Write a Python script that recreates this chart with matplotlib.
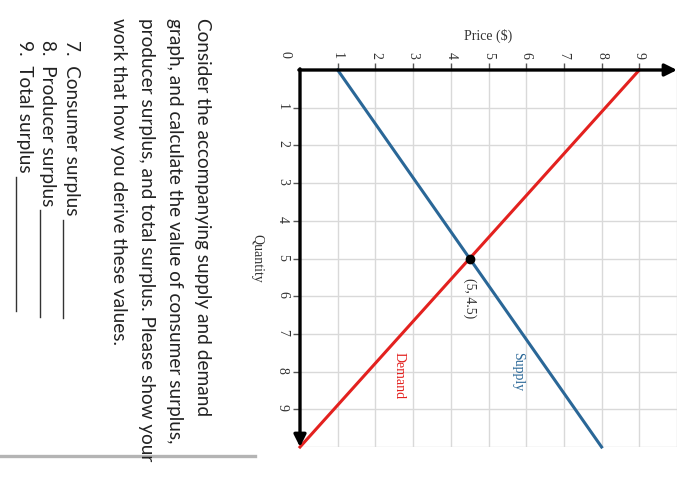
import numpy as np
import matplotlib.pyplot as plt

# supply & demand lines (quantity -> price)
quantity = [0, 10]
supply_price = [1, 8]
demand_price = [9, 0]
equilibrium = (5, 4.5)   # (quantity, price)
ticks = [1, 2, 3, 4, 5, 6, 7, 8, 9]

question = ["Consider the accompanying supply and demand",
            "graph, and calculate the value of consumer surplus,",
            "producer surplus, and total surplus. Please show your",
            "work that how you derive these values."]
items = ["7.  Consumer surplus",
         "8.  Producer surplus",
         "9.  Total surplus"]

blue = '#2a6797'
red = '#e3211f'
serif = 'Liberation Serif'

fig = plt.figure(figsize=(7, 4.87), dpi=100)

# the whole picture is turned a quarter clockwise:
# price runs to the right along the top, quantity runs down
ax = fig.add_axes([300/700, 40/487, 377/700, 377/487])
ax.set_xlim(0, 10)
ax.set_ylim(10, 0)
for s in ax.spines.values():
    s.set_visible(False)

ax.xaxis.tick_top()
ax.set_xticks(ticks)
ax.set_yticks(ticks)
ax.set_xticks([10], minor=True)
ax.set_yticks([10], minor=True)
ax.tick_params(which='minor', length=0)
ax.tick_params(axis='x', length=5, width=1, color='#555555', pad=3,
               labelsize=10, labelrotation=-90)
ax.tick_params(axis='y', length=5, width=1, color='#555555', pad=3,
               labelsize=10, labelrotation=-90)
for lab in ax.get_xticklabels() + ax.get_yticklabels():
    lab.set_fontfamily(serif)
    lab.set_color('#333333')
ax.grid(True, which='both', color='#d9d9d9', lw=1)
ax.set_axisbelow(True)

ax.set_xlabel('Price ($)', fontfamily=serif, fontsize=10, color='#333333')
ax.xaxis.set_label_position('top')
ax.xaxis.set_label_coords(0.5, 1.08)
ax.set_ylabel('Quantity', fontfamily=serif, fontsize=10, color='#333333',
              rotation=-90, va='center')
ax.yaxis.set_label_coords(-0.114, 0.5)
ax.text(-0.4, -0.4, '0', rotation=-90, ha='center', va='center',
        fontfamily=serif, fontsize=10, color='#333333', clip_on=False)

# axes with arrows
arrow = dict(arrowstyle='-|>', lw=2.4, color='black', mutation_scale=18,
             shrinkA=0, shrinkB=0)
ax.annotate('', xy=(10, 0), xytext=(-0.03, 0), arrowprops=arrow)
ax.annotate('', xy=(0, 10), xytext=(0, -0.03), arrowprops=arrow)

ax.plot(supply_price, quantity, color=blue, lw=2.2, clip_on=False)
ax.plot(demand_price, quantity, color=red, lw=2.2, clip_on=False)
ax.plot(equilibrium[1], equilibrium[0], 'o', color='black', ms=6)

ax.text(equilibrium[1], equilibrium[0] + 1.05, '(%g, %g)' % equilibrium,
        rotation=-90, ha='center', va='center', fontfamily=serif,
        fontsize=10, color='#333333')
ax.text(5.78, 8.0, 'Supply', rotation=-90, ha='center', va='center',
        fontfamily=serif, fontsize=10, color=blue)
ax.text(2.63, 8.1, 'Demand', rotation=-90, ha='center', va='center',
        fontfamily=serif, fontsize=10, color=red)

# question text (also turned)
for i, line in enumerate(question):
    fig.text((202 - 28*i)/700, 1 - 18/487, line, rotation=-90, ha='center',
             va='top', fontfamily='Lato', fontsize=13.7, color='#222222')
item_texts = []
for i, line in enumerate(items):
    t = fig.text((71 - 23.5*i)/700, 1 - 40/487, line, rotation=-90,
                 ha='center', va='top', fontfamily='Lato', fontsize=13.7,
                 color='#222222')
    item_texts.append(t)

# answer blanks after each item
fig.canvas.draw()
blank_x = [63, 40, 16]
blank_end = [318, 317, 311]
for t, bx, be in zip(item_texts, blank_x, blank_end):
    bb = t.get_window_extent()
    start = bb.y0 - 4
    fig.add_artist(plt.Line2D([bx/700, bx/700], [start/487, 1 - be/487],
                              color='#333333', lw=1.0,
                              transform=fig.transFigure))

fig.add_artist(plt.Line2D([0, 255/700], [31/487, 31/487], color='#b4b4b4',
                          lw=2.4, transform=fig.transFigure))

fig.savefig('out.png', dpi=100)
